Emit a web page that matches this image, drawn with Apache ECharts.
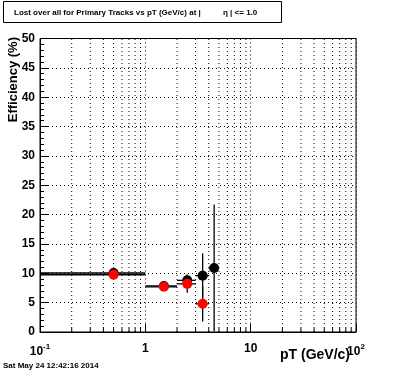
<!DOCTYPE html>
<html><head><meta charset="utf-8">
<script src="https://cdn.jsdelivr.net/npm/echarts@6/dist/echarts.min.js"></script>
<style>html,body{margin:0;padding:0;background:#fff}#c{width:396px;height:372px}</style>
</head><body><div id="c"></div>
<script>
// ---- data ----
var binCenters = [0.5, 1.5, 2.5, 3.5, 4.5];
var binLow     = [0, 1, 2, 3, 4];
var binHigh    = [1, 2, 3, 4, 5];
var blackVals  = [10.05, 7.85, 8.8, 9.6, 10.9];
var blackErrs  = [0.3, 0.3, 1.0, 3.8, 10.8];
var redVals    = [9.75, 7.7, 8.2, 4.8, null];
var redErrs    = [0.3, 0.3, 1.5, 3.0, null];
var xMinorTicks = [0.2,0.3,0.4,0.5,0.6,0.7,0.8,0.9,2,3,4,5,6,7,8,9,20,30,40,50,60,70,80,90];
var titleMain = 'Lost over all for Primary Tracks vs pT (GeV/c) at |';
var titleEta = 'η | <= 1.0';
var xTitle = 'pT (GeV/c)';
var yTitle = 'Efficiency (%)';
var dateText = 'Sat May 24 12:42:16 2014';

var X_MIN = 0.1, X_MAX = 100, Y_MIN = 0, Y_MAX = 50;

function rows(vals, errs){
  var out = [];
  for (var i = 0; i < binCenters.length; i++) {
    if (vals[i] == null) continue;
    out.push([binCenters[i], vals[i], binLow[i], binHigh[i], errs[i]]);
  }
  return out;
}
var blackRows = rows(blackVals, blackErrs);
var redRows = rows(redVals, redErrs);

function errRender(params, api){
  var x = api.value(0), y = api.value(1), lo = Math.max(api.value(2), X_MIN), hi = api.value(3), e = api.value(4);
  var a = api.coord([lo, y]), b = api.coord([hi, y]);
  var c = api.coord([x, Math.max(y - e, Y_MIN)]), d = api.coord([x, Math.min(y + e, Y_MAX)]);
  var st = {stroke:'#000', lineWidth:1.3};
  return {type:'group', children:[
    {type:'line', shape:{x1:a[0],y1:a[1],x2:b[0],y2:b[1]}, style:st},
    {type:'line', shape:{x1:c[0],y1:c[1],x2:d[0],y2:d[1]}, style:st}
  ]};
}

var chart = echarts.init(document.getElementById('c'), null, {renderer:'canvas'});
var FONT = 'Liberation Sans, Arial, Helvetica, sans-serif';
chart.setOption({
  animation:false,
  backgroundColor:'#fff',
  textStyle:{fontFamily:FONT},
  grid:{left:40, right:40, top:38.5, bottom:40, show:true, borderColor:'#000', borderWidth:1, backgroundColor:'transparent'},
  xAxis:{
    type:'log', logBase:10, min:X_MIN, max:X_MAX,
    axisLine:{lineStyle:{color:'#000', width:1}},
    axisTick:{inside:true, length:8, lineStyle:{color:'#000'}},
    splitLine:{show:true, lineStyle:{color:'#000', type:[1,3], width:1}},
    minorTick:{show:false},
    axisLabel:{
      margin:11, color:'#000', fontWeight:'bold', fontSize:12, fontFamily:FONT,
      formatter:function(v){
        if (Math.abs(v-0.1)<1e-9) return '10{sup|-1}';
        if (Math.abs(v-100)<1e-9) return '10{sup|2}';
        return String(Math.round(v));
      },
      rich:{sup:{fontSize:8, fontWeight:'bold', fontFamily:FONT, padding:[0,0,9,0], color:'#000'}}
    }
  },
  yAxis:{
    type:'value', min:Y_MIN, max:Y_MAX, interval:5,
    axisLine:{show:true, lineStyle:{color:'#000', width:1}},
    axisTick:{show:true, inside:true, length:8, lineStyle:{color:'#000'}},
    minorTick:{show:true, splitNumber:5, length:4, lineStyle:{color:'#000'}},
    splitLine:{show:true, lineStyle:{color:'#000', type:[1,3], width:1}},
    axisLabel:{margin:5, color:'#000', fontWeight:'bold', fontSize:12, fontFamily:FONT}
  },
  graphic:[
    {type:'rect', shape:{x:3.5, y:1.5, width:278, height:21}, style:{fill:'#fff', stroke:'#000', lineWidth:1}},
    {type:'text', x:14, y:12.5, style:{text:titleMain, font:'bold 8px '+FONT, fill:'#000', verticalAlign:'middle', align:'left'}},
    {type:'text', x:223, y:12.5, style:{text:titleEta, font:'bold 8px '+FONT, fill:'#000', verticalAlign:'middle', align:'left'}},
    {type:'text', x:350, y:355, style:{text:xTitle, font:'bold 14px '+FONT, fill:'#000', verticalAlign:'middle', align:'right'}},
    {type:'text', x:13, y:37, rotation:Math.PI/2, style:{text:yTitle, font:'bold 13px '+FONT, fill:'#000', verticalAlign:'middle', align:'right'}},
    {type:'text', x:3, y:365.5, style:{text:dateText, font:'bold 8px '+FONT, fill:'#000', verticalAlign:'middle', align:'left'}}
  ],
  series:[
    {type:'custom', silent:true, z:1, clip:true,
     data:xMinorTicks.map(function(v){return [v, 0];}),
     renderItem:function(params, api){
       var p0 = api.coord([api.value(0), Y_MIN]), p1 = api.coord([api.value(0), Y_MAX]);
       return {type:'group', children:[
         {type:'line', shape:{x1:p0[0],y1:p0[1],x2:p1[0],y2:p1[1]}, style:{stroke:'#000', lineWidth:1, lineDash:[1,3]}},
         {type:'line', shape:{x1:p0[0],y1:p0[1],x2:p0[0],y2:p0[1]-4}, style:{stroke:'#000', lineWidth:1}}
       ]};
     }},
    {type:'custom', silent:true, z:2, data:blackRows, renderItem:errRender},
    {type:'custom', silent:true, z:2, data:redRows, renderItem:errRender},
    {type:'scatter', z:3, symbol:'circle', symbolSize:10, itemStyle:{color:'#000', opacity:1},
     data:blackRows.map(function(r){return [r[0], r[1]];})},
    {type:'scatter', z:4, symbol:'circle', symbolSize:10, itemStyle:{color:'#ff0000', opacity:1},
     data:redRows.map(function(r){return [r[0], r[1]];})}
  ]
});
</script></body></html>
